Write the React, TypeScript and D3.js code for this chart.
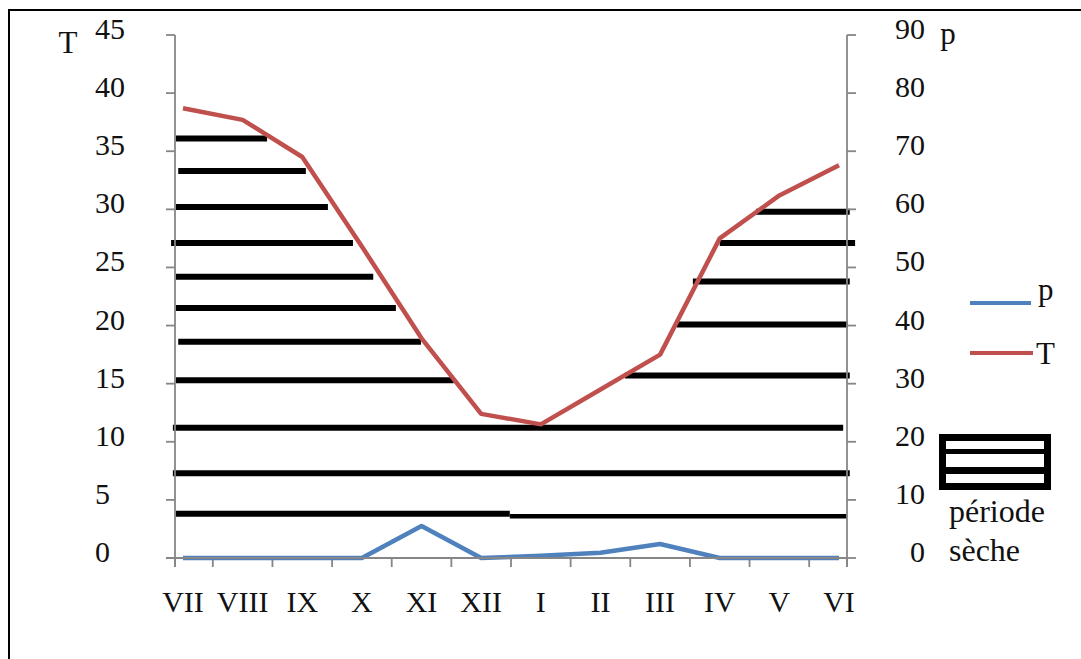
import React from "react";
import * as d3 from "d3";

const months = ["VII", "VIII", "IX", "X", "XI", "XII", "I", "II", "III", "IV", "V", "VI"];
const temperature = [38.7, 37.7, 34.5, 26.8, 18.9, 12.4, 11.5, 14.5, 17.5, 27.5, 31.2, 33.8];
const precipitation = [0, 0, 0, 0, 5.5, 0, 0.4, 0.9, 2.4, 0, 0, 0];
const tTicks = [0, 5, 10, 15, 20, 25, 30, 35, 40, 45];
const pTicks = [0, 10, 20, 30, 40, 50, 60, 70, 80, 90];

// dry-period hatch segments: level (in T units) and extent (in month index units)
const hatchT = [36.1, 33.3, 30.2, 27.1, 24.2, 21.5, 18.6, 15.3, 29.8, 27.1, 23.8, 20.1, 15.7, 11.2, 7.3, 3.8, 3.6];
const hatchFrom = [-0.12, -0.08, -0.12, -0.2, -0.12, -0.12, -0.08, -0.12, 9.61, 9.0, 8.55, 8.28, 7.41, -0.17, -0.17, -0.12, 5.48];
const hatchTo = [1.41, 2.06, 2.43, 2.85, 3.19, 3.57, 3.99, 4.54, 11.18, 11.27, 11.18, 11.15, 11.18, 11.07, 11.18, 5.48, 11.13];

const W = 1081;
const H = 659;
const FONT = "'Liberation Serif', 'Times New Roman', serif";
const RED = "#C0504D";
const BLUE = "#4F81BD";
const AXIS = "#868686";
const TXT = "#111";

export default function App() {
  const x = d3.scalePoint<string>().domain(months).range([183, 839]);
  const xi = d3.scaleLinear().domain([0, months.length - 1]).range([183, 839]);
  const axisL = 175;
  const axisR = 847;
  const yT = d3.scaleLinear().domain([0, 45]).range([558, 35]);
  const yP = d3.scaleLinear().domain([0, 90]).range([558, 35]);

  const tLine = d3
    .line<number>()
    .x((_, i) => x(months[i]) as number)
    .y((d) => yT(d));
  const pLine = d3
    .line<number>()
    .x((_, i) => x(months[i]) as number)
    .y((d) => yP(d));

  const xTicks: number[] = [axisL];
  for (let i = 0; i < months.length - 1; i++) {
    xTicks.push(((x(months[i]) as number) + (x(months[i + 1]) as number)) / 2);
  }
  xTicks.push(axisR);

  const y0 = yT(0);

  return (
    <svg
      width={W}
      height={H}
      style={{ position: "absolute", left: 0, top: 0, background: "#fff" }}
      fontFamily={FONT}
    >
      <rect x={0} y={0} width={W} height={H} fill="#fff" />
      {/* outer frame */}
      <rect x={9} y={10} width={W + 20} height={H + 20} fill="none" stroke="#000" strokeWidth={2} />

      {/* hatches */}
      {hatchT.map((t, i) => (
        <line
          key={"h" + i}
          x1={xi(hatchFrom[i])}
          x2={xi(hatchTo[i])}
          y1={yT(t)}
          y2={yT(t)}
          stroke="#000"
          strokeWidth={i === hatchT.length - 1 ? 4.5 : 6}
        />
      ))}

      {/* axes */}
      <line x1={axisL} x2={axisL} y1={yT(45)} y2={y0 + 9} stroke={AXIS} strokeWidth={1.8} />
      <line x1={axisR} x2={axisR} y1={yP(90)} y2={y0 + 9} stroke={AXIS} strokeWidth={1.8} />
      {tTicks.map((t) => (
        <line key={"tl" + t} x1={axisL - 9} x2={axisL} y1={yT(t)} y2={yT(t)} stroke={AXIS} strokeWidth={1.8} />
      ))}
      {pTicks.map((p) => (
        <line key={"pl" + p} x1={axisR} x2={axisR + 9} y1={yP(p)} y2={yP(p)} stroke={AXIS} strokeWidth={1.8} />
      ))}
      {xTicks.map((tx, i) => (
        <line key={"xt" + i} x1={tx} x2={tx} y1={y0} y2={y0 + 9} stroke={AXIS} strokeWidth={1.8} />
      ))}

      {/* series */}
      <path d={pLine(precipitation) || ""} fill="none" stroke={BLUE} strokeWidth={4.5} strokeLinejoin="round" />
      <line x1={axisL - 9} x2={axisR} y1={y0} y2={y0} stroke={AXIS} strokeWidth={1.8} />
      <path d={tLine(temperature) || ""} fill="none" stroke={RED} strokeWidth={4.5} strokeLinejoin="round" />

      {/* tick labels */}
      {tTicks.map((t) => (
        <text key={"tt" + t} x={95} y={yT(t) + 4} fontSize={30} fill={TXT}>
          {t}
        </text>
      ))}
      {pTicks.map((p) => (
        <text key={"pt" + p} x={925} y={yP(p) + 4} fontSize={30} fill={TXT} textAnchor="end">
          {p}
        </text>
      ))}
      {months.map((m) => (
        <text key={"m" + m} x={x(m)} y={612} fontSize={30} fill={TXT} textAnchor="middle">
          {m}
        </text>
      ))}

      {/* axis titles */}
      <text x={68} y={53} fontSize={31} fill={TXT} textAnchor="middle">T</text>
      <text x={948} y={44} fontSize={31} fill={TXT} textAnchor="middle">p</text>

      {/* legend */}
      <line x1={970} x2={1031} y1={303} y2={303} stroke={BLUE} strokeWidth={4} />
      <text x={1038} y={300} fontSize={31} fill={TXT}>p</text>
      <line x1={970} x2={1033} y1={353} y2={353} stroke={RED} strokeWidth={4} />
      <text x={1036} y={364} fontSize={31} fill={TXT}>T</text>

      <rect x={939} y={434} width={112} height={56} fill="#000" />
      <rect x={946} y={441} width={98} height={8} fill="#fff" />
      <rect x={946} y={454} width={98} height={13} fill="#fff" />
      <rect x={946} y={474} width={98} height={9} fill="#fff" />
      <text x={949} y={522} fontSize={32} fill={TXT}>période</text>
      <text x={949} y={561} fontSize={32} fill={TXT}>sèche</text>
    </svg>
  );
}
